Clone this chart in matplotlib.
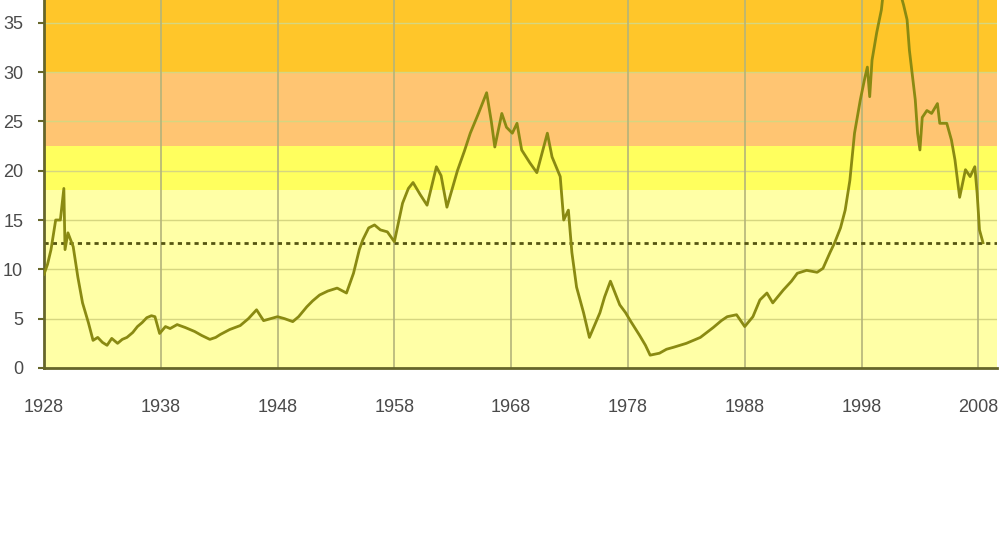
import matplotlib.pyplot as plt

# values (year, ratio)
years = [1928.0, 1928.3, 1928.6, 1929.0, 1929.4, 1929.7, 1929.8, 1930.05, 1930.5, 1930.9,
         1931.3, 1931.8, 1932.2, 1932.6, 1933.0, 1933.4, 1933.8, 1934.3, 1934.7, 1935.1,
         1935.6, 1936.0, 1936.4, 1936.8, 1937.2, 1937.5, 1937.9, 1938.4, 1938.8, 1939.4,
         1940.1, 1940.5, 1940.9, 1941.5, 1942.2, 1942.7, 1943.1, 1943.9, 1944.8, 1945.5,
         1946.2, 1946.8, 1947.1, 1948.0, 1948.6, 1949.3, 1949.8, 1950.5, 1951.0, 1951.6,
         1952.3, 1953.1, 1953.9, 1954.5, 1955.0, 1955.3, 1955.8, 1956.3, 1956.8, 1957.4,
         1958.0, 1958.7, 1959.2, 1959.6, 1960.2, 1960.8, 1961.6, 1962.0, 1962.5, 1963.4,
         1964.0, 1964.5, 1965.2, 1965.9, 1966.3, 1966.6, 1967.2, 1967.6, 1968.1, 1968.5,
         1968.9, 1969.6, 1970.2, 1970.7, 1971.1, 1971.5, 1972.2, 1972.5, 1972.9, 1973.2,
         1973.6, 1974.2, 1974.7, 1975.1, 1975.6, 1976.0, 1976.5, 1977.3, 1977.8, 1978.2,
         1979.0, 1979.5, 1979.9, 1980.7, 1981.3, 1981.9, 1983.0, 1983.6, 1984.2, 1985.3,
         1986.0, 1986.5, 1987.3, 1988.0, 1988.7, 1989.3, 1989.9, 1990.4, 1991.3, 1992.0,
         1992.5, 1993.3, 1994.2, 1994.7, 1995.3, 1995.7, 1996.2, 1996.6, 1997.0, 1997.4,
         1997.9, 1998.3, 1998.5, 1998.7, 1998.9, 1999.3, 1999.7, 2000.0, 2000.4, 2000.8,
         2001.2, 2001.6, 2001.9, 2002.1, 2002.6, 2002.8, 2003.0, 2003.2, 2003.6, 2004.0,
         2004.5, 2004.7, 2005.3, 2005.7, 2006.0, 2006.3, 2006.4, 2006.9, 2007.3, 2007.7,
         2007.9, 2008.1, 2008.4]
ratio = [9.5, 10.5, 12.0, 15.0, 15.0, 18.2, 12.0, 13.7, 12.3, 9.2,
         6.6, 4.6, 2.8, 3.1, 2.6, 2.3, 3.0, 2.5, 2.9, 3.1,
         3.6, 4.2, 4.6, 5.1, 5.3, 5.2, 3.5, 4.2, 4.0, 4.4,
         4.1, 3.9, 3.7, 3.3, 2.9, 3.1, 3.4, 3.9, 4.3, 5.0,
         5.9, 4.8, 4.9, 5.2, 5.0, 4.7, 5.2, 6.2, 6.8, 7.4,
         7.8, 8.1, 7.6, 9.6, 12.0, 13.0, 14.2, 14.5, 14.0, 13.8,
         12.8, 16.7, 18.2, 18.8, 17.6, 16.5, 20.4, 19.5, 16.3, 20.0,
         22.0, 23.8, 25.8, 27.9, 25.0, 22.4, 25.8, 24.4, 23.8, 24.8,
         22.1, 20.8, 19.8, 22.0, 23.8, 21.4, 19.4, 15.0, 16.0, 11.7,
         8.2, 5.6, 3.1, 4.2, 5.6, 7.2, 8.8, 6.4, 5.6, 4.8,
         3.3, 2.3, 1.3, 1.5, 1.9, 2.1, 2.5, 2.8, 3.1, 4.1,
         4.8, 5.2, 5.4, 4.2, 5.2, 6.9, 7.6, 6.6, 7.9, 8.8,
         9.6, 9.9, 9.7, 10.1, 11.7, 12.7, 14.2, 16.0, 19.0, 23.8,
         27.2, 29.5, 30.5, 27.5, 31.2, 34.0, 36.3, 39.5, 42.0, 40.5,
         38.5, 36.8, 35.3, 32.2, 27.2, 23.8, 22.1, 25.4, 26.1, 25.8,
         26.8, 24.8, 24.8, 23.1, 21.1, 18.3, 17.3, 20.1, 19.4, 20.4,
         17.7, 14.0, 12.7]

average = 12.7
band_edges = [0, 18, 22.5, 30, 40]
band_colors = ['#ffffa6', '#ffff5e', '#ffc572', '#ffc62a']
year_ticks = [1928, 1938, 1948, 1958, 1968, 1978, 1988, 1998, 2008]
value_ticks = [0, 5, 10, 15, 20, 25, 30, 35]

fig = plt.figure(figsize=(10.01, 5.38), dpi=100)
ax = fig.add_axes([44 / 1001, 1 - 368 / 538, 953 / 1001, 368 / 538])

for lo, hi, c in zip(band_edges[:-1], band_edges[1:], band_colors):
    ax.axhspan(lo, hi, color=c, lw=0, zorder=0)

for v in value_ticks[1:]:
    ax.axhline(v, color='#d6d680', lw=1, zorder=1)
for y in year_ticks[1:]:
    ax.axvline(y, color='#b4b47a', lw=1.2, zorder=1)

ax.axhline(average, color='#555510', lw=2, ls=(0, (1.5, 1.5)), zorder=2)
ax.plot(years, ratio, color='#8a8a12', lw=2, zorder=3)

ax.set_xlim(1928, 2009.6)
ax.set_ylim(0, 37.3)
ax.set_xticks(year_ticks)
ax.set_yticks(value_ticks)

for s in ['top', 'right']:
    ax.spines[s].set_visible(False)
for s in ['left', 'bottom']:
    ax.spines[s].set_color('#66662a')
    ax.spines[s].set_linewidth(2)

ax.tick_params(axis='y', length=4, width=1.5, color='#66662a', pad=11,
               labelsize=13, labelcolor='#4a4a4a')
ax.tick_params(axis='x', length=0, pad=22, labelsize=13, labelcolor='#4a4a4a')
for lab in ax.get_xticklabels() + ax.get_yticklabels():
    lab.set_fontfamily('Liberation Sans')

fig.savefig('out.png', dpi=100)
